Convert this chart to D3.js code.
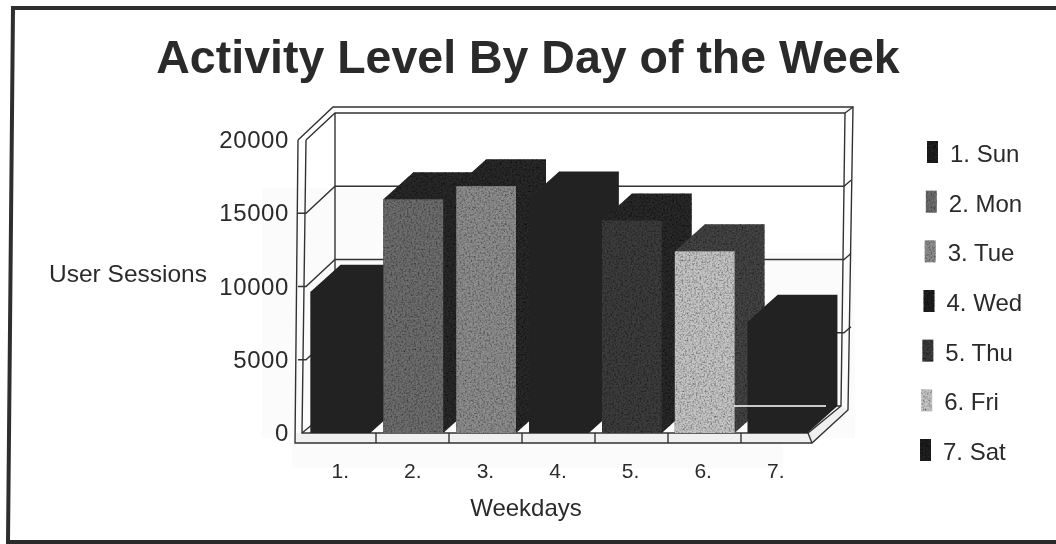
<!DOCTYPE html>
<html><head><meta charset="utf-8">
<script src="https://cdn.jsdelivr.net/npm/d3@7/dist/d3.min.js"></script>
<style>html,body{margin:0;padding:0;background:#fff}svg{display:block}text{font-family:"Liberation Sans",Arial,sans-serif;fill:#2b2b2b}</style>
</head><body><div id="c"></div>
<script>
const categories=["1.","2.","3.","4.","5.","6.","7."];
const legendLabels=["1. Sun","2. Mon","3. Tue","4. Wed","5. Thu","6. Fri","7. Sat"];
const sessions=[9650,15950,16850,16000,14500,12400,7600];
const frontColors=["#242424","#6e6e6e","#8e8e8e","#242424","#3c3c3c","#c6c6c6","#242424"];
const sideColors=["#242424","#2a2a2a","#2a2a2a","#242424","#2a2a2a","#444444","#242424"];
const yTicks=[0,5000,10000,15000,20000];
const W=1056,H=544,dy=-27,barDx=30,barDy=-27;
const svg=d3.select("#c").append("svg").attr("width",W).attr("height",H);
const defs=svg.append("defs");
const grain=defs.append("filter").attr("id","grain").attr("x",0).attr("y",0).attr("width","100%").attr("height","100%");
grain.append("feTurbulence").attr("type","fractalNoise").attr("baseFrequency",0.55).attr("numOctaves",2).attr("seed",4).attr("result","n");
grain.append("feColorMatrix").attr("in","n").attr("type","matrix").attr("values","0 0 0 0 0  0 0 0 0 0  0 0 0 0 0  1.6 0 0 0 -0.62").attr("result","d");
grain.append("feComposite").attr("in","d").attr("in2","SourceGraphic").attr("operator","in").attr("result","c");
const m=grain.append("feMerge");m.append("feMergeNode").attr("in","SourceGraphic");m.append("feMergeNode").attr("in","c");
defs.append("filter").attr("id","soft").append("feGaussianBlur").attr("stdDeviation",0.5);
const root=svg.append("g").attr("filter","url(#soft)");
[[262,253,593,185],[292,438,491,30],[262,188,358,65]].forEach(r=>root.append("rect").attr("x",r[0]).attr("y",r[1]).attr("width",r[2]).attr("height",r[3]).attr("fill","#fbfbfb"));
const line=d3.line();
root.append("path").attr("fill","none").attr("stroke","#2e2e2e").attr("stroke-width",4).attr("d",line([[8,542],[13,8],[1056,8]]));
root.append("path").attr("fill","none").attr("stroke","#2a2a2a").attr("stroke-width",4).attr("d",line([[6,542],[1056,542]]));
root.append("text").attr("x",528).attr("y",73).attr("text-anchor","middle").attr("font-size",46.5).attr("font-weight","bold").text("Activity Level By Day of the Week");
const y=d3.scaleLinear().domain([0,20000]).range([433,140]);
const x=d3.scaleBand().domain(categories).range([304,814]).paddingInner(0.18).paddingOuter(0.09);
const band=d3.scaleBand().domain(categories).range([303,814]);
const labelX=d3.scaleBand().domain(categories).range([304,812]);
const frame=root.append("g").attr("fill","none").attr("stroke","#333").attr("stroke-width",1.4);
root.insert("path","g").attr("fill","#f0f0f0").attr("d",line([[295,433],[808,433],[841,406],[848,410],[812,443],[295,443]])+"Z");
frame.append("path").attr("d",line([[298,y(20000)],[333,107],[853,107],[848,410],[812,443],[295,443],[298,y(20000)]]));
frame.append("path").attr("d",line([[306,y(20000)],[335,113],[845,113],[841,y(0)+dy],[808,433],[302,433],[306,y(20000)]]));
frame.append("path").attr("d",line([[335,113],[335,y(0)+dy]]));
frame.append("path").attr("d",line([[302,433],[335,y(0)+dy],[841,y(0)+dy]]));
frame.append("path").attr("d",line([[808,433],[812,443]]));
frame.append("path").attr("d",line([[845,113],[853,107]]));
yTicks.forEach(v=>{
  if(v>0&&v<20000){
    frame.append("path").attr("d",line([[298,y(v)],[306,y(v)],[335,y(v)+dy],[844,y(v)+dy],[851,y(v)+dy-6]]));
  }
  root.append("text").attr("x",289).attr("y",y(v)+8).attr("text-anchor","end").attr("font-size",24).attr("letter-spacing",0.6).text(v);
});
categories.slice(1).forEach(c=>frame.append("path").attr("d",line([[band(c),433],[band(c),443]])));
const bars=root.append("g").selectAll("g").data(categories).join("g");
const isFlat=i=>frontColors[i]===sideColors[i];
bars.append("path").attr("fill",(d,i)=>sideColors[i]).attr("filter",(d,i)=>isFlat(i)?null:"url(#grain)").attr("d",(d,i)=>{
  const a=x(d),b=a+x.bandwidth(),t=y(sessions[i]),z=y(0);
  return line([[a,t],[a+barDx,t+barDy],[b+barDx,t+barDy],[b+barDx,z+barDy],[b,z],[a,z]])+"Z";
});
bars.append("rect").attr("fill",(d,i)=>frontColors[i]).attr("filter",(d,i)=>isFlat(i)?null:"url(#grain)")
  .attr("x",d=>x(d)).attr("width",x.bandwidth()).attr("y",(d,i)=>y(sessions[i])).attr("height",(d,i)=>y(0)-y(sessions[i]));
root.append("path").attr("fill","none").attr("stroke","#fff").attr("stroke-width",1.6).attr("d",line([[734,y(0)+dy],[826,y(0)+dy]]));
categories.forEach(c=>root.append("text").attr("x",labelX(c)+labelX.bandwidth()/2).attr("y",478).attr("text-anchor","middle").attr("font-size",21).text(c));
root.append("text").attr("x",526).attr("y",516).attr("text-anchor","middle").attr("font-size",24).text("Weekdays");
root.append("text").attr("x",49).attr("y",282).attr("font-size",24.5).text("User Sessions");
const legY=d3.scalePoint().domain(legendLabels).range([152,450]);
const legX=d3.scalePoint().domain(legendLabels).range([950,943]);
legendLabels.forEach((l,i)=>{
  root.append("rect").attr("x",legX(l)-23).attr("y",legY(l)-11).attr("width",11).attr("height",22).attr("fill",frontColors[i]).attr("filter","url(#grain)");
  root.append("text").attr("x",legX(l)).attr("y",legY(l)+10).attr("font-size",24).text(l);
});
</script></body></html>
